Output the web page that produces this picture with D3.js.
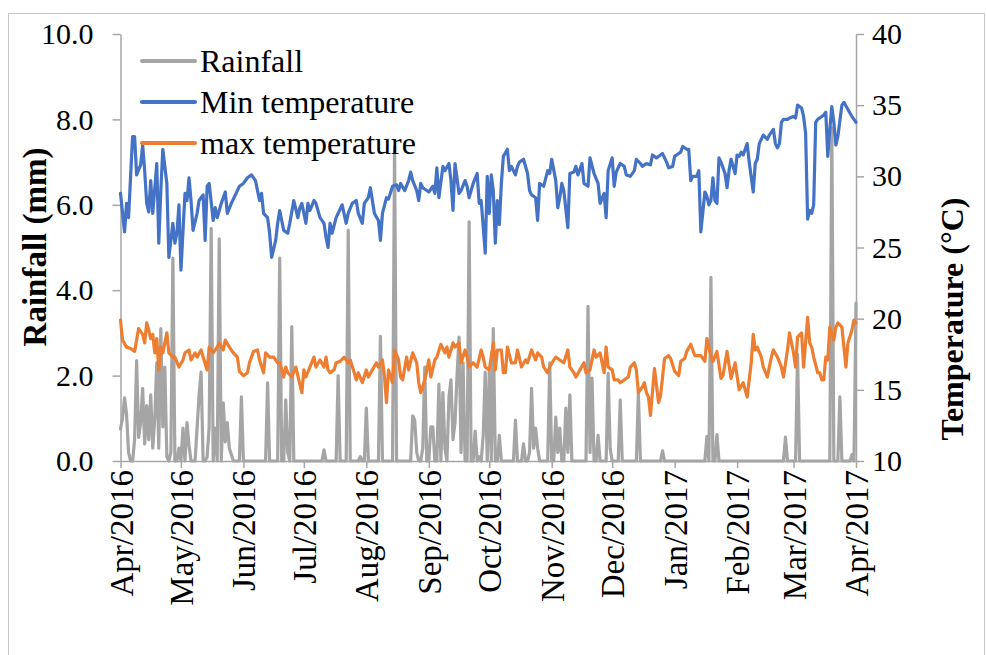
<!DOCTYPE html>
<html><head><meta charset="utf-8">
<script src="https://cdn.jsdelivr.net/npm/d3@7"></script>
<style>
body{margin:0;background:#fff;}
text{font-family:"Liberation Serif","Times New Roman",serif;}
</style>
</head><body>
<svg id="chart" width="986" height="655"></svg>
<script>
// ---------------- DATA ----------------
const startDate = "2016-04-01";
const endDate = "2017-04-01";
const seriesNames = ["Rainfall", "Min temperature", "max temperature"];
const leftTicks = [0, 2, 4, 6, 8, 10];
const rightTicks = [10, 15, 20, 25, 30, 35, 40];
const xTickLabels = ["Apr/2016","May/2016","Jun/2016","Jul/2016","Aug/2016","Sep/2016","Oct/2016","Nov/2016","Dec/2016","Jan/2017","Feb/2017","Mar/2017","Apr/2017"];

// daily rainfall (mm), one value per day from 1 Apr 2016
const rainfall = [
0.75,1.0,1.48,1.1,0.2,0,0,0.5,2.35,0.55,
0.9,1.7,0.4,1.3,0.5,1.55,0.3,1.0,2.3,0.3,
3.1,0.8,2.2,0.1,0,0.2,4.75,0,0,0.3,
0,0.77,0,0.9,0.37,0,0,0,0.77,1.55,
2.08,0,0,0.1,0.8,5.45,0,0.77,0,5.2,
0,1.36,0.45,0.9,0.3,0.15,0,0,0,0,
1.5,0,0,0,0,0,0,0,0,0,
0,0,0,1.83,0,0,0,0,0,4.75,
0,0,1.43,0.2,0,3.15,0,0,0,0,
0,0,0,0,0,0,0,0,0,0,
0,0.26,0,0,0,0,0,0,2.0,0,
0,0,0,5.4,0,0,0,0,0,0.1,
0,0,1.24,0,0,0,0,0,0,2.92,
0,0,0,0,0,0,7.35,0,0,0,
0,0,0,0,0,1.06,0.95,0.2,0,0,
0.3,2.2,0,0,0.8,0.8,0,0,1.8,0,
1.6,0.3,0,1.5,1.9,0.5,0.9,2.0,2.9,0.2,
2.3,0,0,5.6,0,0,0.7,0,0.1,0,
0.6,2.08,0,2.1,0,3.1,0,0,0.6,0,
0,0,0,0,0,0,0.96,0,0,0,
0.4,0,0,0.2,1.7,0.3,0.77,0.3,0,0,
0,0,0,2.3,0,0,1.03,0.2,0.77,0,
0,1.24,0.2,1.55,0,0,0,0,0,0,
0,0,3.62,0.2,1.94,0,0,0.6,0,0,
0,0,2.05,0.3,0,0,0,0,1.43,0,
0,0,0,0,0,0,0,1.6,0,0,
0,0,0,0,0,0,0,0,0,0.24,
0,0,0,0,0,0,0,0,0,0,
0,0,0,0,0,0,0,0,0,0,
0,0.57,0,4.3,0,0,0.62,0,0,0,
0,0,0,0,0,0,0,0,0,0,
0,0,0,0,0,0,0,0,0,0,
0,0,0,0,0,0,0,0,0,0,
0.56,0,0,0,0,0,2.5,0,0,0,
0,0,0,0,0,0,0,0,0,0,
0,0,0,7.8,0,0,0,1.5,0,0,
0,0,0,0.15,0,3.7
];

// [day offset from 1 Apr 2016, °C]
const minTemp = [
[0,28.8],[2,26.1],[3,28.1],[4,27.1],[6,32.8],[7,32.8],[8,30.1],[10,30.8],[11,32.2],[12,30.4],[13,28.1],[14,27.5],[15,29.7],[16,27.4],[18,30.9],[19,25.3],[20,29.0],[21,31.9],[23,29.5],[24,24.3],[26,26.7],[27,25.3],[28,26.0],[29,28.0],[30,23.4],[32,28.8],[33,28.3],[34,29.9],[35,28.3],[36,26.2],[38,27.4],[39,28.3],[41,28.7],[42,25.5],[43,29.3],[44,29.5],[46,26.9],[47,27.8],[48,27.1],[50,28.1],[52,28.9],[53,27.4],[55,28.1],[58,29.0],[59,29.3],[61,29.5],[63,29.9],[65,30.1],[67,29.7],[68,29.0],[69,28.3],[70,28.8],[71,27.4],[73,27.1],[74,26.0],[75,24.3],[77,25.5],[78,26.7],[79,27.6],[81,26.2],[83,26.0],[84,26.7],[86,28.3],[88,27.1],[89,27.8],[90,28.1],[92,26.7],[93,28.1],[94,27.6],[96,28.3],[97,28.1],[99,27.1],[101,26.7],[102,25.7],[103,25.0],[104,26.7],[105,26.0],[107,27.1],[108,27.4],[110,28.0],[112,26.7],[113,27.4],[115,28.1],[117,28.3],[118,27.4],[120,26.7],[121,28.1],[123,28.5],[124,29.2],[125,28.3],[126,27.4],[128,26.9],[129,25.5],[130,27.4],[132,28.5],[133,28.4],[135,29.3],[137,29.4],[138,29.0],[139,29.5],[141,29.0],[143,29.7],[144,30.3],[145,29.7],[147,29.0],[148,28.3],[149,29.5],[150,29.2],[152,29.0],[153,28.9],[155,29.3],[156,28.8],[157,30.6],[158,28.5],[160,30.7],[161,30.4],[163,30.9],[164,29.7],[165,27.6],[166,30.9],[168,28.8],[169,29.0],[171,29.7],[172,29.3],[173,28.5],[175,29.5],[177,30.2],[178,28.1],[179,28.3],[181,24.6],[182,30.0],[183,27.4],[184,30.1],[185,29.0],[186,25.3],[187,28.3],[188,26.6],[189,29.5],[190,31.4],[192,31.9],[193,30.4],[194,30.7],[196,30.1],[197,30.7],[198,31.0],[200,31.2],[202,30.2],[203,29.0],[204,28.7],[206,28.5],[207,26.9],[208,29.5],[210,29.3],[212,30.4],[213,30.2],[214,31.2],[216,29.7],[217,27.8],[218,28.5],[219,29.5],[220,29.0],[222,26.4],[223,30.2],[225,30.3],[226,30.7],[227,30.1],[229,30.9],[230,29.5],[232,29.3],[233,31.3],[235,30.2],[237,29.5],[238,28.1],[240,28.8],[241,27.1],[242,30.4],[244,31.3],[245,29.3],[246,30.3],[248,30.9],[250,30.7],[251,30.1],[253,30.0],[255,30.4],[256,31.2],[258,30.9],[259,30.7],[261,30.9],[263,30.8],[264,31.5],[266,31.3],[268,31.5],[269,31.6],[271,31.0],[272,30.6],[274,30.7],[275,31.4],[277,31.6],[278,31.7],[279,32.1],[281,31.9],[282,31.9],[283,29.7],[284,30.0],[286,30.0],[287,30.4],[288,26.1],[290,28.9],[291,28.6],[292,28.0],[293,28.3],[294,29.9],[295,28.3],[296,28.1],[297,31.3],[298,31.0],[300,30.2],[301,29.2],[302,30.4],[303,31.2],[305,30.2],[306,31.5],[307,31.4],[308,31.7],[309,31.5],[311,32.3],[312,31.0],[314,28.9],[315,30.9],[316,31.2],[317,32.3],[319,32.9],[321,32.6],[322,32.9],[324,33.3],[325,32.3],[326,32.0],[327,32.3],[328,33.8],[329,34.0],[331,34.0],[332,34.1],[334,34.2],[335,34.1],[336,35.0],[338,34.8],[339,34.2],[340,33.0],[341,27.0],[342,27.6],[343,27.4],[344,28.0],[345,33.8],[346,34.0],[348,34.2],[349,34.3],[350,34.5],[351,31.4],[352,33.3],[353,34.9],[354,33.8],[355,32.2],[356,32.8],[358,35.0],[359,35.2],[361,34.7],[363,34.2],[365,33.8]
];

const maxTemp = [
[0,19.9],[1,18.5],[3,18.0],[5,17.9],[7,17.7],[9,19.3],[11,18.9],[12,18.3],[13,19.7],[14,19.2],[15,18.6],[16,18.9],[17,17.6],[18,18.6],[19,16.4],[20,18.0],[21,17.6],[22,18.3],[23,19.0],[24,17.6],[26,17.3],[27,17.3],[29,16.6],[31,17.1],[32,17.6],[34,17.8],[35,17.1],[37,17.6],[38,17.3],[40,17.8],[41,17.3],[43,16.4],[44,18.0],[46,17.6],[48,18.0],[49,18.3],[51,17.8],[52,18.5],[54,18.0],[56,17.6],[58,17.3],[59,16.3],[61,16.0],[63,16.2],[64,16.9],[66,17.7],[68,17.8],[69,17.1],[71,16.2],[72,17.6],[74,17.3],[76,17.3],[78,16.9],[79,16.9],[81,15.9],[82,16.6],[83,16.2],[85,15.9],[87,16.6],[88,16.0],[90,14.8],[91,16.4],[92,15.9],[94,16.6],[96,17.3],[97,16.6],[99,17.1],[101,16.6],[102,17.3],[103,16.4],[104,16.2],[106,16.4],[107,16.9],[109,17.0],[111,17.3],[113,16.9],[114,17.1],[116,16.2],[117,15.7],[118,16.2],[120,15.5],[122,16.4],[123,15.9],[125,16.4],[127,16.9],[128,16.6],[130,17.1],[131,15.9],[132,14.1],[133,16.4],[135,15.5],[136,17.8],[138,17.1],[139,15.9],[140,15.7],[142,17.3],[143,16.4],[145,17.6],[147,16.9],[148,15.5],[149,14.8],[151,15.7],[153,17.1],[154,15.9],[156,17.1],[157,17.3],[159,18.2],[161,17.6],[162,18.0],[163,17.3],[165,18.3],[166,18.0],[168,18.3],[169,16.9],[171,17.8],[172,17.3],[173,16.6],[175,16.9],[177,16.6],[179,17.8],[180,17.3],[181,16.6],[183,16.4],[185,18.3],[186,16.4],[187,17.8],[189,17.8],[190,16.2],[191,16.2],[192,18.0],[194,16.9],[196,16.9],[197,17.8],[199,16.6],[201,17.1],[202,16.9],[204,17.8],[206,17.1],[207,17.6],[209,17.3],[210,16.6],[212,16.2],[213,16.6],[215,17.1],[216,17.3],[218,17.1],[220,16.9],[222,17.8],[223,16.6],[225,16.2],[226,15.9],[228,16.4],[230,16.9],[231,16.2],[233,16.4],[235,17.8],[236,17.3],[238,17.6],[240,16.2],[241,18.0],[242,16.6],[244,16.4],[245,15.7],[247,15.7],[248,15.5],[250,15.7],[252,15.9],[253,16.6],[255,16.9],[256,16.4],[257,14.8],[259,15.2],[260,15.5],[261,14.8],[262,14.5],[263,13.2],[265,16.5],[267,14.1],[268,14.6],[270,17.2],[272,17.4],[273,17.2],[275,16.3],[277,16.0],[278,17.0],[280,17.2],[281,17.7],[283,18.2],[285,17.4],[286,17.4],[288,17.4],[290,17.0],[291,18.6],[293,17.4],[294,17.0],[296,17.7],[298,15.8],[299,16.0],[301,17.7],[303,15.8],[305,16.9],[307,15.0],[309,15.5],[310,15.0],[311,14.5],[313,16.9],[314,18.9],[315,17.8],[316,18.0],[318,17.3],[319,16.6],[321,15.9],[323,17.3],[324,17.8],[326,17.3],[328,16.6],[329,15.9],[331,17.8],[332,19.0],[334,17.6],[335,16.6],[336,18.7],[338,19.0],[339,16.6],[341,20.1],[342,18.3],[343,18.0],[344,17.3],[346,16.2],[347,16.2],[348,15.7],[349,15.7],[350,17.3],[351,17.1],[352,19.4],[354,18.5],[355,19.4],[356,19.7],[358,19.4],[359,18.0],[360,16.6],[361,18.3],[363,19.2],[364,19.9],[365,19.7]
];

// ---------------- CHART ----------------
const svg = d3.select("#chart");
const parse = d3.timeParse("%Y-%m-%d");
const t0 = parse(startDate), t1 = parse(endDate);
const dayToDate = d => d3.timeDay.offset(t0, d);

const plot = {left: 120.5, right: 856, top: 34, bottom: 461};
const x = d3.scaleTime().domain([t0, t1]).range([plot.left, plot.right]);
const yL = d3.scaleLinear().domain([0, 10]).range([plot.bottom, plot.top]);
const yR = d3.scaleLinear().domain([10, 40]).range([plot.bottom, plot.top]);

const axisColor = "#a6a6a6";
const colors = {rain: "#a5a5a5", min: "#4472c4", max: "#ed7d31"};

// outer border
svg.append("rect").attr("x", 8.5).attr("y", 13.5).attr("width", 976).attr("height", 700)
  .attr("fill", "none").attr("stroke", "#c8c8c8").attr("stroke-width", 1);

function styleAxis(g, fs) {
  g.selectAll(".domain").attr("stroke", axisColor).attr("stroke-width", 1.5);
  g.selectAll(".tick line").attr("stroke", axisColor).attr("stroke-width", 1.5);
  g.selectAll("text").attr("fill", "#000").style("font-size", fs + "px")
    .style("font-family", "'Liberation Serif','Times New Roman',serif");
}

// left axis
const gL = svg.append("g").attr("transform", `translate(${plot.left},0)`)
  .call(d3.axisLeft(yL).tickValues(leftTicks).tickSize(8).tickSizeOuter(0).tickPadding(19)
    .tickFormat(d3.format(".1f")));
styleAxis(gL, 30);

// right axis
const gR = svg.append("g").attr("transform", `translate(${plot.right},0)`)
  .call(d3.axisRight(yR).tickValues(rightTicks).tickSize(8).tickSizeOuter(0).tickPadding(8)
    .tickFormat(d3.format("d")));
styleAxis(gR, 30);

// bottom axis
const monthTicks = d3.timeMonth.range(t0, d3.timeDay.offset(t1, 1));
const gX = svg.append("g").attr("transform", `translate(0,${plot.bottom})`)
  .call(d3.axisBottom(x).tickValues(monthTicks).tickSize(7).tickSizeOuter(0)
    .tickFormat((d, i) => xTickLabels[i]));
styleAxis(gX, 33);
gX.selectAll(".tick text")
  .attr("transform", "rotate(-90)")
  .attr("text-anchor", "end")
  .attr("x", -9).attr("y", 0).attr("dy", "0.35em");

// lines
const rainLine = d3.line().x((d, i) => x(dayToDate(i))).y(d => yL(d));
const tLine = d3.line().x(d => x(dayToDate(d[0]))).y(d => yR(d[1]));

svg.append("path").datum(rainfall).attr("d", rainLine)
  .attr("fill", "none").attr("stroke", colors.rain).attr("stroke-width", 3.2)
  .attr("stroke-linejoin", "round").attr("stroke-linecap", "round");
svg.append("path").datum(minTemp).attr("d", tLine)
  .attr("fill", "none").attr("stroke", colors.min).attr("stroke-width", 3.2)
  .attr("stroke-linejoin", "round").attr("stroke-linecap", "round");
svg.append("path").datum(maxTemp).attr("d", tLine)
  .attr("fill", "none").attr("stroke", colors.max).attr("stroke-width", 3.2)
  .attr("stroke-linejoin", "round").attr("stroke-linecap", "round");

// axis titles
svg.append("text").attr("transform", "translate(46,247) rotate(-90)")
  .attr("text-anchor", "middle").style("font-size", "33px").style("font-weight", "bold")
  .text("Rainfall (mm)");
svg.append("text").attr("transform", "translate(963,319) rotate(-90)")
  .attr("text-anchor", "middle").style("font-size", "32px").style("font-weight", "bold")
  .text("Temperature (°C)");

// legend
const legendY = [61, 102, 143];
const legendColors = [colors.rain, colors.min, colors.max];
seriesNames.forEach((name, i) => {
  svg.append("line").attr("x1", 142).attr("x2", 195).attr("y1", legendY[i]).attr("y2", legendY[i])
    .attr("stroke", legendColors[i]).attr("stroke-width", 4).attr("stroke-linecap", "round");
  svg.append("text").attr("x", 200).attr("y", legendY[i]).attr("dy", "0.35em")
    .style("font-size", "32px").attr("fill", "#000").text(name);
});
</script>
</body></html>
